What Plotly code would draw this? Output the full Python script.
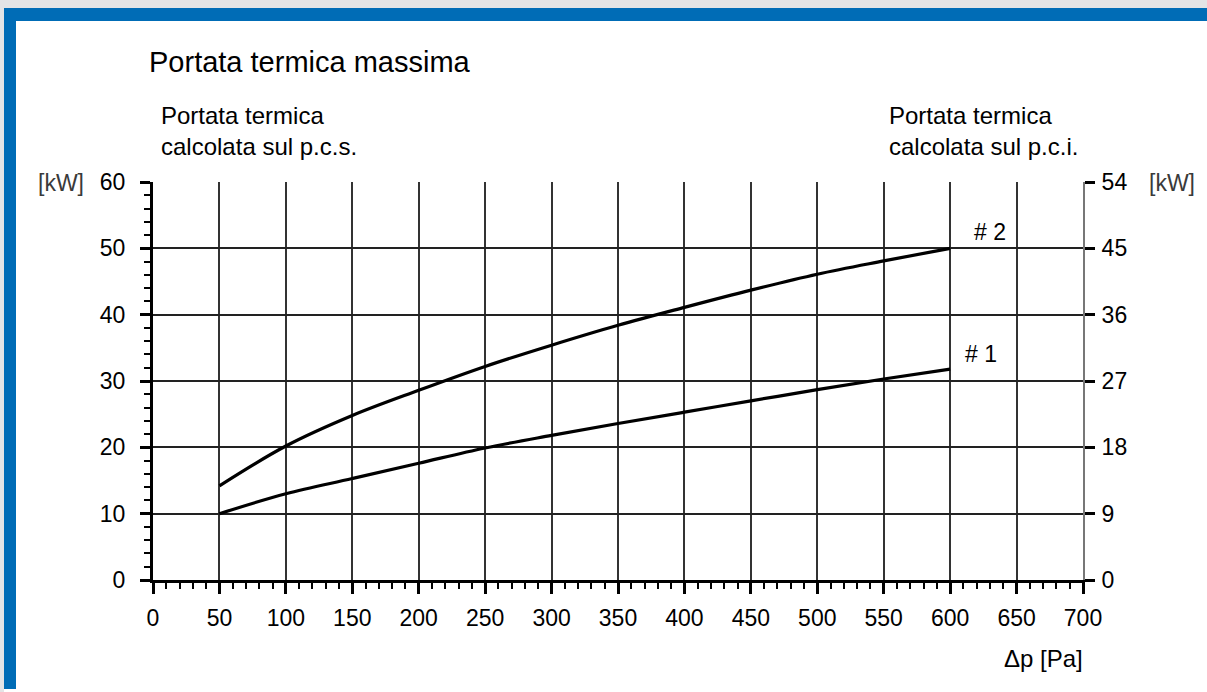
import plotly.graph_objects as go

# Data
dp = [50, 100, 150, 200, 250, 300, 350, 400, 450, 500, 550, 600]
curve1 = [10.0, 13.0, 15.3, 17.6, 19.9, 21.8, 23.6, 25.3, 27.0, 28.7, 30.3, 31.8]
curve2 = [14.2, 20.2, 24.8, 28.6, 32.2, 35.4, 38.4, 41.1, 43.7, 46.1, 48.1, 50.0]
curve_labels = ["# 1", "# 2"]
left_ticks = [0, 10, 20, 30, 40, 50, 60]
right_ticks = [0, 9, 18, 27, 36, 45, 54]
x_ticks = [0, 50, 100, 150, 200, 250, 300, 350, 400, 450, 500, 550, 600, 650, 700]

W, H = 1207, 692
L, R, T, B = 153, 1083, 182, 580
FONT = "Liberation Sans, Arial, sans-serif"


def px(x):
    return (x - L) / (R - L)


def py(y):
    return (B - y) / (B - T)


fig = go.Figure()
for ys in (curve1, curve2):
    fig.add_trace(go.Scatter(x=dp, y=ys, mode="lines",
                             line=dict(color="black", width=3.2, shape="spline"),
                             showlegend=False, hoverinfo="skip"))
# invisible trace to anchor the right axis
fig.add_trace(go.Scatter(x=[0], y=[0], yaxis="y2", mode="markers",
                         marker=dict(opacity=0), showlegend=False, hoverinfo="skip"))

shapes = []
gray = "#e3e4e6"
blue = "#006cb6"
shapes.append(dict(type="rect", xref="paper", yref="paper", x0=px(0), x1=px(W), y0=py(0), y1=py(8),
                   fillcolor=gray, line=dict(width=0), layer="below"))
shapes.append(dict(type="rect", xref="paper", yref="paper", x0=px(0), x1=px(4), y0=py(0), y1=py(H),
                   fillcolor=gray, line=dict(width=0), layer="below"))
shapes.append(dict(type="rect", xref="paper", yref="paper", x0=px(4), x1=px(W), y0=py(8), y1=py(21),
                   fillcolor=blue, line=dict(width=0), layer="below"))
shapes.append(dict(type="rect", xref="paper", yref="paper", x0=px(4), x1=px(16), y0=py(8), y1=py(689),
                   fillcolor=blue, line=dict(width=0), layer="below"))

annotations = []
annotations.append(dict(text="Portata termica massima", xref="paper", yref="paper",
                        x=px(147), y=py(62), xanchor="left", yanchor="middle", showarrow=False,
                        font=dict(family=FONT, size=29, color="black")))
annotations.append(dict(text="Portata termica<br>calcolata sul p.c.s.", xref="paper", yref="paper",
                        x=px(159), y=py(131), xanchor="left", yanchor="middle", showarrow=False,
                        align="left", font=dict(family=FONT, size=24, color="black")))
annotations.append(dict(text="Portata termica<br>calcolata sul p.c.i.", xref="paper", yref="paper",
                        x=px(887), y=py(131), xanchor="left", yanchor="middle", showarrow=False,
                        align="left", font=dict(family=FONT, size=24, color="black")))
annotations.append(dict(text="[kW]", xref="paper", yref="paper",
                        x=px(36), y=py(183), xanchor="left", yanchor="middle", showarrow=False,
                        font=dict(family=FONT, size=23, color="#3a3a3a")))
annotations.append(dict(text="[kW]", xref="paper", yref="paper",
                        x=px(1147), y=py(183), xanchor="left", yanchor="middle", showarrow=False,
                        font=dict(family=FONT, size=23, color="#3a3a3a")))
annotations.append(dict(text="\u0394p [Pa]", xref="paper", yref="paper",
                        x=px(1085), y=py(658), xanchor="right", yanchor="middle", showarrow=False,
                        font=dict(family=FONT, size=24, color="black")))
# curve labels
annotations.append(dict(text=curve_labels[1], x=dp[-1] + 30, y=curve2[-1] + 2.5, xref="x", yref="y",
                        showarrow=False, xanchor="center", yanchor="middle",
                        font=dict(family=FONT, size=23, color="black")))
annotations.append(dict(text=curve_labels[0], x=dp[-1] + 23, y=curve1[-1] + 2.2, xref="x", yref="y",
                        showarrow=False, xanchor="center", yanchor="middle",
                        font=dict(family=FONT, size=23, color="black")))

fig.update_layout(
    width=W, height=H,
    margin=dict(l=L, r=W - R, t=T, b=H - B, autoexpand=False),
    paper_bgcolor="white", plot_bgcolor="rgba(0,0,0,0)",
    font=dict(family=FONT, size=23, color="black"),
    shapes=shapes, annotations=annotations,
    xaxis=dict(range=[0, 700], tickvals=x_ticks, ticktext=[str(v) for v in x_ticks],
               ticks="outside", ticklen=11, tickwidth=2.5, tickcolor="black",
               showline=True, linecolor="black", linewidth=3,
               showgrid=True, gridcolor="#333", gridwidth=1.5, zeroline=False,
               ticklabelstandoff=4,
               minor=dict(dtick=10, tick0=0, ticks="outside", ticklen=6, tickwidth=2,
                          tickcolor="black", showgrid=False)),
    yaxis=dict(range=[0, 60], tickvals=left_ticks, ticktext=[str(v) for v in left_ticks],
               ticks="outside", ticklen=10, tickwidth=2.5, tickcolor="black",
               showline=True, linecolor="black", linewidth=3,
               showgrid=True, gridcolor="#222", gridwidth=1.5, zeroline=False,
               ticklabelstandoff=10,
               minor=dict(dtick=2, tick0=0, ticks="outside", ticklen=6, tickwidth=2,
                          tickcolor="black", showgrid=False)),
    yaxis2=dict(range=[0, 54], overlaying="y", side="right", anchor="x",
                tickvals=right_ticks, ticktext=[str(v) for v in right_ticks],
                ticks="outside", ticklen=10, tickwidth=2.5, tickcolor="black",
                showline=True, linecolor="#777", linewidth=2,
                showgrid=False, zeroline=False, ticklabelstandoff=2),
)

fig.write_html("out.html", config={"displayModeBar": False},
               post_script="document.body.style.margin='0';document.body.style.overflow='hidden';")
